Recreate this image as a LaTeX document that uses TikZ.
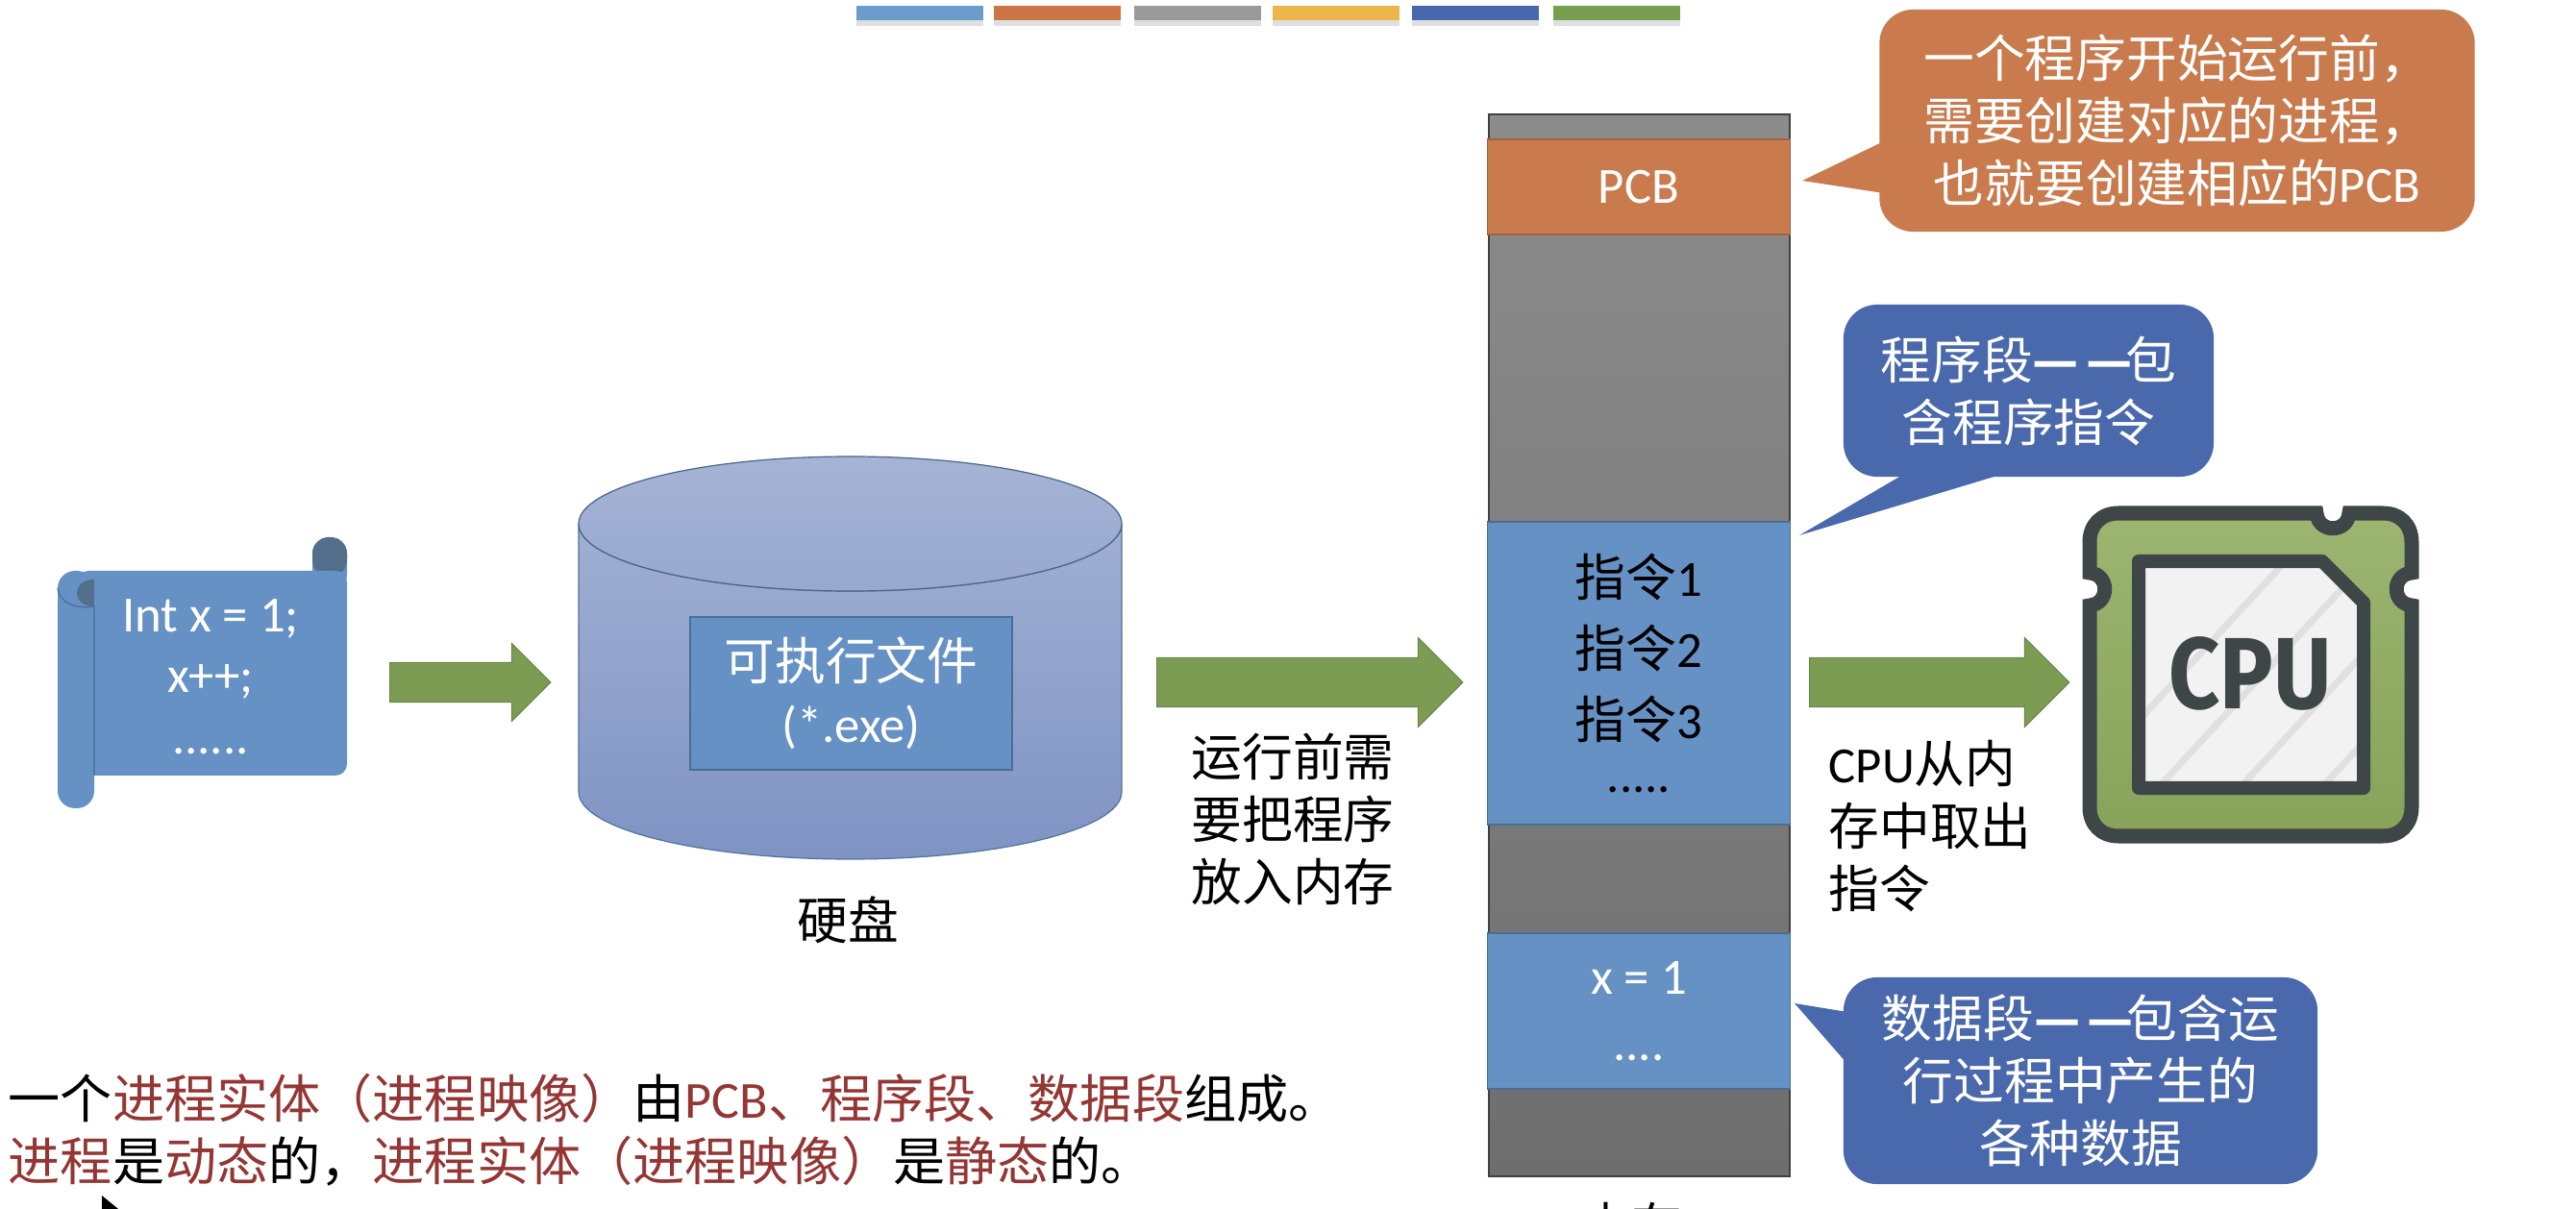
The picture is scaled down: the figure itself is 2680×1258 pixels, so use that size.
\documentclass[tikz,border=0pt]{standalone}
\usepackage{fontspec}
\setmainfont{Noto Sans CJK SC}
\newfontfamily\lat{Carlito}
\newfontfamily\cpufont{Fira Sans}
\usetikzlibrary{shapes.arrows,shadows}
\definecolor{segblue}{HTML}{6591C4}
\definecolor{noteblue}{HTML}{4A69AC}
\definecolor{noteorange}{HTML}{C97B4D}
\definecolor{arrowgreen}{HTML}{7C9C54}
\definecolor{procred}{HTML}{943634}
\definecolor{chipdark}{HTML}{3F4648}
\definecolor{chiptop}{HTML}{9CB571}
\definecolor{chipbot}{HTML}{87A35A}
\definecolor{disktop}{HTML}{A0AFD2}
\definecolor{diskbot}{HTML}{7F93C4}
\definecolor{captop}{HTML}{A5B3D5}
\definecolor{capbot}{HTML}{98A8CF}
\definecolor{memtop}{HTML}{8C8C8C}
\definecolor{membot}{HTML}{6E6E6E}
\newcommand{\hl}[1]{{\color{procred}#1}}
\newcommand{\dashes}{{\bfseries —\kern.14em—\kern-.14em}}
\tikzset{
  txt/.style={font=\fontsize{15}{18.5}\selectfont,align=center,inner sep=0pt},
  bigarrow/.style={single arrow,fill=arrowgreen,draw=arrowgreen!85!black,line width=0.01cm,
    inner xsep=0pt,inner ysep=0.25cm,single arrow head extend=0.21cm,single arrow tip angle=90},
  segment/.style={txt,fill=segblue,draw=segblue!75!black,line width=0.015cm,minimum width=3.15cm},
  note/.style={txt,text=white,rounded corners=0.35cm,minimum width=#1},
  summary/.style={txt,anchor=west,font=\fontsize{15.4}{18.5}\selectfont},
  topbar/.style={inner sep=0pt,minimum height=0.15cm,minimum width=1.31cm,
    drop shadow={shadow xshift=0pt,shadow yshift=-0.05cm,opacity=0.25}}
}
\begin{document}
\begin{tikzpicture}[x=0.01cm,y=-0.01cm]
  \useasboundingbox (0,0) rectangle (2680,1258);

  % Colour strip
  \foreach \xpos/\col/\nm in {957/6A9CCE/a,1100/CC7647/b,1246/9A9A9A/c,1390/EDB64A/d,1535/4668AD/e,1682/779F4F/f}{
    \definecolor{barcol}{HTML}{\col}
    \node[topbar,fill=barcol] (bar\nm) at (\xpos,14) {};
  }

  % Source scroll
  \fill[segblue,rounded corners=0.17cm] (325,559) rectangle (361,615);
  \fill[chipdark!45!segblue,rounded corners=0.17cm] (325,559) rectangle (361,600);
  \fill[segblue,rounded corners=0.12cm] (80,594) rectangle (361,807);
  \fill[segblue,rounded corners=0.18cm] (60,594) rectangle (98,841);
  \fill[chipdark!45!segblue] (98,603) .. controls (74,603) and (74,631) .. (98,631) -- cycle;
  \draw[segblue!75!black,line width=0.012cm] (60,612) .. controls (62,628) and (80,634) .. (98,631) -- (98,807);
  \node[txt,text=white,font=\fontsize{15}{18}\lat] (source) at (219,704) {Int x = 1;\\x++;\\......};

  % Disk
  \draw[draw=segblue!80!black,line width=0.012cm,top color=disktop,bottom color=diskbot]
    (602,545) -- (602,824) arc[start angle=180,end angle=0,x radius=282.5,y radius=70] -- (1167,545)
    arc[start angle=0,end angle=180,x radius=282.5,y radius=70] -- cycle;
  \draw[draw=segblue!70!black,line width=0.012cm,top color=captop,bottom color=capbot]
    (884.5,545) ellipse [x radius=282.5,y radius=70];
  \node[segment,minimum width=3.35cm,minimum height=1.59cm,text=white] (exe) at (885.5,721.5)
    {可执行文件\\{\lat (*.exe)}};
  \node[txt] (disklabel) at (882,957) {硬盘};

  % Arrows
  \node[bigarrow,inner ysep=0.2cm,single arrow head extend=0.2cm,minimum height=1.67cm] (arrowa) at (479,710) {};
  \node[bigarrow,minimum height=3.18cm] (arrowb) at (1350,710) {};
  \node[bigarrow,minimum height=2.70cm] (arrowc) at (2005,710) {};
  \node[txt,align=left] (loadlabel) at (1345,852) {运行前需\\要把程序\\放入内存};
  \node[txt,align=left,anchor=west] (fetchlabel) at (1902,860) {{\lat CPU}从内\\存中取出\\指令};

  % Memory
  \node[draw=black!75,line width=0.02cm,top color=memtop,bottom color=membot,inner sep=0pt,
    minimum width=3.13cm,minimum height=11.05cm] (memory) at (1705.5,671.5) {};
  \node[segment,fill=noteorange,draw=noteorange!80!black,minimum height=0.99cm,text=white] (pcb) at (1705,194.5) {\lat PCB};
  \node[segment,minimum height=3.15cm,font=\fontsize{15}{21}\selectfont] (program) at (1705,700.5)
    {指令{\lat 1}\\指令{\lat 2}\\指令{\lat 3}\\[-5pt]{\lat .....}};
  \node[segment,minimum height=1.62cm,text=white,font=\fontsize{15}{19.5}\lat] (data) at (1705,1052) {x = 1\\....};
  \node[txt] (memlabel) at (1697,1276) {内存};

  % Callouts
  \fill[noteorange] (1960,147) -- (1875,188) -- (1960,201) -- cycle;
  \node[note=6.19cm,fill=noteorange,minimum height=2.31cm] (notepcb) at (2265,125.5)
    {一个程序开始运行前，\\需要创建对应的进程，\\也就要创建相应的{\lat PCB}};
  \fill[noteblue] (1978,495) -- (1872,557) -- (2078,495) -- cycle;
  \node[note=3.85cm,fill=noteblue,minimum height=1.79cm] (noteprog) at (2110.5,406.5)
    {程序段\dashes 包\\含程序指令};
  \fill[noteblue] (1922,1053) -- (1867,1044) -- (1922,1107) -- cycle;
  \node[note=4.93cm,fill=noteblue,minimum height=2.15cm] (notedata) at (2164.5,1124.5)
    {数据段\dashes 包含运\\行过程中产生的\\各种数据};

  % CPU chip
  \draw[line width=0.15cm,draw=chipdark,top color=chiptop,bottom color=chipbot]
    (2204,534) -- (2410,534) .. controls (2412,555) and (2442,555) .. (2444,534) -- (2479,534)
    .. controls (2497,534) and (2509,546) .. (2509,564) -- (2509,596)
    .. controls (2488,598) and (2488,628) .. (2509,630) -- (2509,840)
    .. controls (2509,858) and (2497,870) .. (2479,870) -- (2204,870)
    .. controls (2186,870) and (2174,858) .. (2174,840) -- (2174,630)
    .. controls (2195,628) and (2195,598) .. (2174,596) -- (2174,564)
    .. controls (2174,546) and (2186,534) .. (2204,534) -- cycle;
  \begin{scope}
    \clip (2225,584) -- (2416,584) -- (2459,627) -- (2459,820) -- (2225,820) -- cycle;
    \fill[black!5] (2225,584) rectangle (2459,820);
    \foreach \xoff in {0,85,170,255}{
      \draw[black!12,line width=0.07cm] (2160+\xoff,820) -- (2400+\xoff,560);
    }
  \end{scope}
  \draw[line width=0.14cm,draw=chipdark,line join=round]
    (2225,584) -- (2416,584) -- (2459,627) -- (2459,820) -- (2225,820) -- cycle;
  \node[inner sep=0pt,text=chipdark,xscale=0.88,font=\fontsize{30}{30}\cpufont\bfseries] (cpu) at (2341,701) {CPU};

  % Summary lines
  \node[summary] (lineone) at (8,1143)
    {一个\hl{进程实体（进程映像）}由\hl{{\lat PCB}、程序段、数据段}组成。};
  \node[summary] (linetwo) at (8,1208)
    {\hl{进程}是\hl{动态}的，\hl{进程实体（进程映像）}是\hl{静态}的。};

  % Pointer
  \fill[black] (106,1244) -- (106,1270) -- (128,1262) -- cycle;
\end{tikzpicture}
\end{document}
